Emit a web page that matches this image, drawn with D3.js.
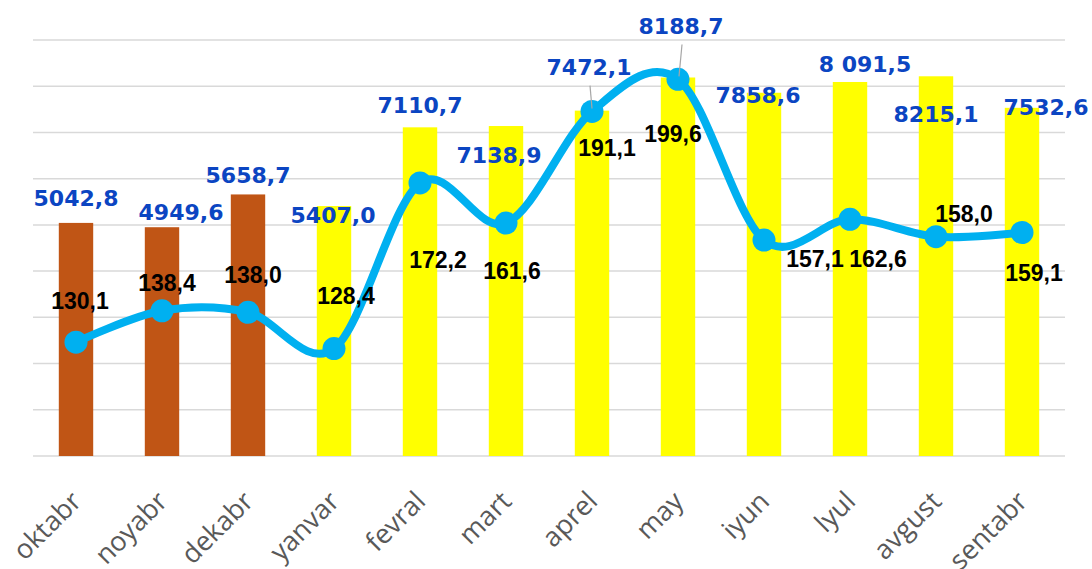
<!DOCTYPE html>
<html>
<head>
<meta charset="utf-8">
<script src="https://cdn.jsdelivr.net/npm/d3@7"></script>
<style>
  body { margin: 0; background: #fff; }
  svg { display: block; }
</style>
</head>
<body>
<div id="chart"></div>
<script>
// months
var months = ["oktabr", "noyabr", "dekabr", "yanvar", "fevral", "mart", "aprel", "may", "iyun", "lyul", "avgust", "sentabr"];
// bars (left axis)
var barValues = [5042.8, 4949.6, 5658.7, 5407.0, 7110.7, 7138.9, 7472.1, 8188.7, 7858.6, 8091.5, 8215.1, 7532.6];
var barLabels = ["5042,8", "4949,6", "5658,7", "5407,0", "7110,7", "7138,9", "7472,1", "8188,7", "7858,6", "8 091,5", "8215,1", "7532,6"];
// line (right axis)
var lineValues = [130.1, 138.4, 138.0, 128.4, 172.2, 161.6, 191.1, 199.6, 157.1, 162.6, 158.0, 159.1];
var lineLabels = ["130,1", "138,4", "138,0", "128,4", "172,2", "161,6", "191,1", "199,6", "157,1", "162,6", "158,0", "159,1"];

// label nudges (layout only)
var barLabelOff = [[0,-17],[19,-7],[0,-11],[-1,17],[0,-14],[-7,37],[-3,-36],[3,-44],[-6,10],[15,-10],[0,46],[24,7]];
var lineLabelOff = [[4,-33],[5,-20],[5,-29],[12,-45],[18,85],[6,56],[15,45],[-5,63],[51,27],[28,48],[28,-15],[12,49]];

var width = 1092, height = 569;
var plotL = 33, plotR = 1065, plotT = 40, plotB = 456;

var svg = d3.select("#chart").append("svg").attr("width", width).attr("height", height);
svg.append("rect").attr("width", width).attr("height", height).attr("fill", "#fff");

var x = d3.scaleBand().domain(months).range([plotL, plotR]).paddingInner(0.6).paddingOuter(0.3);
var xc = function(m) { return x(m) + x.bandwidth() / 2; };
var y = d3.scaleLinear().domain([0, 9000]).range([plotB, plotT]);
var y2 = d3.scaleLinear().domain([100, 210]).range([plotB, plotT]);

// gridlines
svg.append("g").selectAll("line").data(y.ticks(9)).enter().append("line")
  .attr("x1", plotL).attr("x2", plotR)
  .attr("y1", function(d) { return y(d); }).attr("y2", function(d) { return y(d); })
  .attr("stroke", "#D9D9D9").attr("stroke-width", 1.5);

// bars
svg.append("g").selectAll("rect").data(months).enter().append("rect")
  .attr("x", function(d) { return x(d); })
  .attr("width", x.bandwidth())
  .attr("y", function(d, i) { return y(barValues[i]); })
  .attr("height", function(d, i) { return plotB - y(barValues[i]); })
  .attr("fill", function(d, i) { return i < 3 ? "#C05515" : "#FFFF00"; });

// x axis labels
var xAxis = svg.append("g").attr("transform", "translate(0," + plotB + ")")
  .call(d3.axisBottom(x).tickSize(0).tickPadding(0));
xAxis.select(".domain").remove();
xAxis.selectAll("text")
  .attr("transform", "translate(7,47) rotate(-45)")
  .attr("text-anchor", "end")
  .attr("dy", "0")
  .attr("y", 0)
  .style("font-family", "'Open Sans', sans-serif")
  .style("font-size", "27px")
  .style("fill", "#595959");

// line
var pts = months.map(function(m, i) { return [xc(m), y2(lineValues[i])]; });
var line = d3.line().curve(d3.curveCardinal.tension(0));
svg.append("path").attr("d", line(pts))
  .attr("fill", "none").attr("stroke", "#00B0F0").attr("stroke-width", 8)
  .attr("stroke-linecap", "round");
svg.append("g").selectAll("circle").data(pts).enter().append("circle")
  .attr("cx", function(d) { return d[0]; }).attr("cy", function(d) { return d[1]; })
  .attr("r", 11.5).attr("fill", "#00B0F0");

// leader lines for aprel and may labels
[6, 7].forEach(function(i) {
  var bx = xc(months[i]) + barLabelOff[i][0], by = y(barValues[i]) + barLabelOff[i][1];
  svg.append("line")
    .attr("x1", bx + 1).attr("y1", by + 11)
    .attr("x2", pts[i][0] + (i == 6 ? 0 : 1)).attr("y2", pts[i][1] - 3)
    .attr("stroke", "#A6A6A6").attr("stroke-width", 1.2);
});

// bar labels
svg.append("g").selectAll("text").data(barLabels).enter().append("text")
  .attr("x", function(d, i) { return xc(months[i]) + barLabelOff[i][0]; })
  .attr("y", function(d, i) { return y(barValues[i]) + barLabelOff[i][1]; })
  .attr("text-anchor", "middle")
  .style("font-family", "'DejaVu Sans', sans-serif")
  .style("font-weight", "bold")
  .style("font-size", "22px")
  .style("fill", "#0B45C2")
  .text(function(d) { return d; });

// line labels
svg.append("g").selectAll("text").data(lineLabels).enter().append("text")
  .attr("x", function(d, i) { return pts[i][0] + lineLabelOff[i][0]; })
  .attr("y", function(d, i) { return pts[i][1] + lineLabelOff[i][1]; })
  .attr("text-anchor", "middle")
  .style("font-family", "'Liberation Sans', sans-serif")
  .style("font-weight", "bold")
  .style("font-size", "23px")
  .style("fill", "#000")
  .text(function(d) { return d; });
</script>
</body>
</html>
